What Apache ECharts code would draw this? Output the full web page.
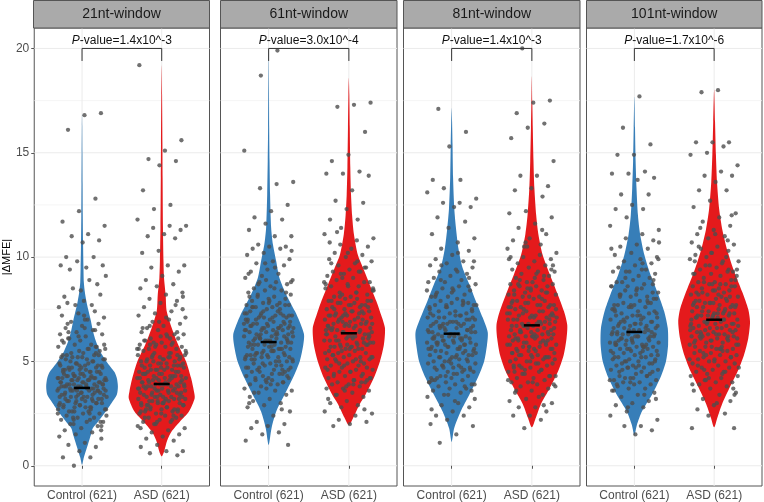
<!DOCTYPE html>
<html><head><meta charset="utf-8">
<script src="https://cdn.jsdelivr.net/npm/echarts@6/dist/echarts.min.js"></script>
<style>html,body{margin:0;padding:0;background:#fff}#c{width:764px;height:502px}</style>
</head><body><div id="c"></div>
<script>
// ---------------- data ----------------
const panels = ['21nt-window','61nt-window','81nt-window','101nt-window'];
const groups = ['Control (621)','ASD (621)'];
const pValues = ['1.4x10^-3','3.0x10^-4','1.4x10^-3','1.7x10^-6'];
const yTicks = [0,5,10,15,20];
const yMinorTicks = [2.5,7.5,12.5,17.5];
const medianControl = [3.73,5.93,6.33,6.41];
const medianASD = [3.92,6.35,6.73,7.0];
const bracketTop = 20.0, bracketLeg = 19.4, labelY = 20.38;

// violin outlines: [value, relative density]
const violinControl21 = [[0.05,0],[0.4,0.05],[1.0,0.16],[1.5,0.25],[1.8,0.30],[2.1,0.44],[2.5,0.62],[3.0,0.82],[3.4,0.97],[3.8,1.0],[4.2,0.97],[4.5,0.9],[5.0,0.68],[5.5,0.5],[6.0,0.38],[6.5,0.3],[7.0,0.24],[7.5,0.17],[7.9,0.12],[8.3,0.08],[8.8,0.05],[9.5,0.04],[10.5,0.03],[12,0.02],[13.5,0.015],[15,0.01],[16.3,0.005],[16.9,0]];
const violinASD21 = [[0.45,0],[0.7,0.07],[1.2,0.15],[1.65,0.28],[2.1,0.5],[2.6,0.76],[3.24,0.92],[3.56,0.9],[4.2,0.82],[5.0,0.68],[5.8,0.46],[6.6,0.28],[7.4,0.14],[8.2,0.11],[9.0,0.065],[9.8,0.05],[11.4,0.035],[13.8,0.025],[15.4,0.02],[17.8,0.01],[19.2,0]];
const violinControl61 = [[1.0,0],[1.8,0.08],[2.6,0.21],[3.4,0.44],[4.2,0.67],[5.0,0.86],[5.8,0.96],[6.3,0.98],[6.9,0.86],[7.4,0.73],[8.2,0.49],[9.0,0.3],[9.8,0.21],[10.6,0.12],[11.4,0.07],[13.0,0.04],[14.6,0.025],[16.2,0.015],[17.8,0.01],[19.9,0]];
const violinASD61 = [[1.94,0],[2.3,0.12],[2.95,0.3],[3.4,0.46],[4.2,0.69],[5.0,0.86],[5.8,0.97],[6.6,1.0],[7.25,0.89],[7.9,0.76],[8.5,0.62],[9.5,0.39],[10.1,0.25],[11.1,0.14],[12.0,0.09],[13.0,0.06],[14.3,0.04],[16.2,0.025],[17.8,0.012],[18.6,0]];
const violinControl81 = [[1.14,0],[1.8,0.07],[2.6,0.25],[3.4,0.49],[4.2,0.72],[5.0,0.9],[5.8,0.98],[6.4,1.0],[7.1,0.86],[7.9,0.67],[8.7,0.49],[9.5,0.3],[10.4,0.19],[11.4,0.12],[12.3,0.074],[13.8,0.04],[15.4,0.025],[16.5,0.012],[17.16,0]];
const violinASD81 = [[1.84,0],[2.3,0.11],[2.95,0.25],[3.7,0.49],[4.5,0.72],[5.3,0.88],[6.1,0.96],[6.75,0.98],[7.4,0.89],[8.2,0.72],[9.2,0.49],[10.1,0.3],[11.1,0.18],[12.0,0.12],[13.3,0.07],[14.6,0.045],[16.2,0.025],[17.5,0.012],[18.67,0]];
const violinControl101 = [[1.46,0],[1.95,0.07],[2.6,0.21],[3.4,0.49],[4.2,0.72],[5.0,0.88],[5.8,0.94],[6.6,0.93],[7.4,0.83],[8.2,0.67],[9.2,0.44],[10.1,0.28],[11.1,0.16],[12.0,0.1],[13.3,0.06],[14.6,0.035],[16.2,0.018],[17.7,0]];
const violinASD101 = [[1.84,0],[2.3,0.09],[2.95,0.22],[3.7,0.42],[4.5,0.65],[5.3,0.83],[6.1,0.95],[6.9,1.0],[7.5,0.95],[8.3,0.79],[9.3,0.56],[10.3,0.37],[11.3,0.23],[12.3,0.14],[13.6,0.08],[14.9,0.05],[16.5,0.025],[18.03,0]];

// individual |dMFE| values
const pointsControl21 = [0.0,0.4,0.4,0.7,0.9,1.0,1.1,1.3,1.4,1.5,1.6,1.7,1.8,1.9,2.0,2.1,2.1,2.2,2.3,2.3,2.4,2.5,2.5,2.6,2.6,2.7,2.7,2.8,2.8,2.9,2.9,3.0,2.6,2.8,3.0,3.0,3.1,3.1,3.2,3.2,3.2,3.3,3.3,3.4,3.4,3.4,3.5,3.1,3.3,3.5,3.6,3.6,3.6,3.7,3.7,3.7,3.8,3.8,3.8,3.9,3.9,3.9,4.0,3.6,3.7,3.8,4.0,4.0,4.1,4.1,4.1,4.2,4.2,4.2,4.3,4.3,4.4,4.4,4.5,4.1,4.2,4.3,4.5,4.6,4.6,4.7,4.7,4.8,4.8,4.9,4.9,5.0,4.6,4.7,4.8,5.0,5.1,5.1,5.2,5.2,5.3,5.3,5.4,5.5,5.2,5.6,5.6,5.7,5.8,5.8,5.9,6.0,5.7,6.1,6.2,6.3,6.3,6.4,6.5,6.6,6.7,6.8,6.9,7.0,7.1,7.2,7.3,7.4,7.8,7.9,8.2,8.5,8.9,9.1,7.6,7.7,7.7,8.1,8.4,8.7,9.4,9.5,9.6,9.6,9.8,10.0,10.0,10.7,10.8,11.0,11.1,11.5,11.7,12.2,12.8,16.1,16.8,16.9,
  2.0,2.2,2.4,2.5,2.6,2.7,2.8,2.9,3.0,3.1,3.1,3.2,3.3,3.3,3.4,3.5,3.5,3.6,3.6,3.7,3.7,3.8,3.8,3.9,3.9,4.0,4.0,4.1,4.1,4.2,4.2,4.3,4.3,4.4,4.4,4.5,4.6,4.6,4.7,4.8,4.9,5.0,5.1,5.2,5.3,5.4,5.6,5.8,6.0,6.2,6.5,6.8,7.2,2.1,2.3,2.5,2.7,2.9,3.0,3.2,3.4,3.5,3.6,3.7,3.8,3.9,4.0,4.1,4.2,4.3,4.4,4.5,4.7,4.9,5.1,5.3,5.5,5.7,6.1,6.6,1.7,2.2,2.8,3.3,3.6,3.9,4.2,4.5,4.8,5.4,6.4,7.0,1.9];
const pointsASD21 = [0.5,0.6,0.7,0.7,0.9,1.0,1.2,1.3,1.4,1.5,1.6,1.7,1.8,1.9,2.0,2.1,2.1,2.2,2.3,2.3,2.4,2.4,2.5,2.5,2.6,2.6,2.7,2.7,2.8,2.8,2.9,2.9,3.0,2.7,2.9,3.0,3.0,3.1,3.1,3.2,3.2,3.3,3.3,3.4,3.4,3.5,3.1,3.2,3.3,3.5,3.6,3.6,3.7,3.7,3.8,3.8,3.9,3.9,4.0,3.6,3.7,3.8,3.9,4.0,4.1,4.1,4.2,4.2,4.3,4.3,4.4,4.4,4.5,4.1,4.2,4.3,4.5,4.6,4.6,4.7,4.7,4.8,4.8,4.9,4.9,5.0,4.6,4.8,5.0,5.1,5.1,5.2,5.2,5.3,5.3,5.4,5.4,5.5,5.2,5.6,5.6,5.7,5.7,5.8,5.8,5.9,6.0,5.9,6.1,6.1,6.2,6.3,6.4,6.5,6.3,6.6,6.7,6.8,6.9,7.0,7.1,7.2,7.3,7.4,7.6,7.8,7.9,8.0,8.2,8.3,8.5,8.6,8.7,8.9,9.1,9.3,9.5,9.6,9.6,10.2,10.3,10.9,11.0,11.1,11.3,11.4,11.5,11.5,11.8,12.3,12.5,13.2,14.4,14.6,14.7,15.1,15.6,19.2,
  2.0,2.2,2.3,2.5,2.6,2.7,2.8,2.9,3.0,3.1,3.2,3.3,3.3,3.4,3.5,3.5,3.6,3.7,3.7,3.8,3.8,3.9,3.9,4.0,4.0,4.1,4.2,4.2,4.3,4.4,4.4,4.5,4.6,4.7,4.7,4.8,4.9,5.0,5.1,5.1,5.2,5.3,5.4,5.5,5.6,5.7,5.8,6.0,6.2,6.4,6.7,7.1,7.5,1.8,2.1,2.4,2.7,3.0,3.2,3.4,3.6,3.8,4.0,4.1,4.3,4.5,4.6,4.8,5.0,5.2,5.4,5.6,5.9,6.1,6.6,6.9,7.7,2.9,3.1,3.5,3.7,3.9,4.2,4.4,4.9,5.3,5.8,6.3,8.1,2.6,3.3];
const pointsControl61 = [1.0,1.2,1.5,1.6,1.8,1.9,2.0,2.1,2.4,2.6,2.8,2.9,3.0,3.1,3.2,3.4,3.5,3.6,3.6,3.7,3.8,3.9,3.9,4.0,4.0,4.1,4.1,4.2,4.3,4.3,4.4,4.5,4.2,4.5,4.6,4.6,4.7,4.7,4.8,4.8,4.9,4.9,5.0,4.7,5.0,5.1,5.1,5.2,5.2,5.3,5.3,5.4,5.4,5.5,5.2,5.3,5.5,5.6,5.6,5.7,5.7,5.8,5.8,5.9,5.9,6.0,5.6,5.8,5.9,6.0,6.1,6.1,6.2,6.2,6.3,6.3,6.4,6.4,6.5,6.1,6.2,6.3,6.5,6.6,6.6,6.7,6.7,6.8,6.8,6.9,6.9,7.0,6.6,6.7,6.8,7.0,7.1,7.1,7.2,7.2,7.3,7.3,7.4,7.4,7.5,7.2,7.6,7.6,7.7,7.7,7.8,7.8,7.9,8.0,7.7,8.1,8.1,8.2,8.3,8.4,8.4,8.5,8.6,8.7,8.8,8.8,8.9,9.0,9.1,9.2,9.3,9.4,9.6,9.7,9.8,9.9,10.1,10.2,10.4,10.4,10.5,10.5,10.6,11.0,11.0,11.3,11.6,11.8,11.9,12.2,12.5,13.3,13.5,13.6,15.1,18.7,19.9,
  3.3,3.7,4.0,4.2,4.4,4.6,4.7,4.9,5.0,5.1,5.2,5.3,5.4,5.5,5.6,5.7,5.8,5.9,6.0,6.0,6.1,6.2,6.3,6.4,6.5,6.5,6.6,6.7,6.8,6.9,7.0,7.1,7.2,7.3,7.4,7.5,7.6,7.8,8.0,8.2,8.5,8.8,9.2,9.7,2.7,3.5,3.9,4.3,4.5,4.8,5.0,5.2,5.4,5.6,5.8,6.0,6.2,6.3,6.5,6.7,6.9,7.1,7.3,7.6,7.9,8.3,8.7,9.5,10.3,3.0,4.1,4.6,5.1,5.5,5.9,6.1,6.4,6.6,6.8,7.2,7.7,8.1,8.9,4.4,5.3,5.7,6.6,7.0];
const pointsASD61 = [1.9,2.0,2.1,2.2,2.4,2.5,2.6,2.8,2.9,3.0,3.1,3.3,3.4,3.5,3.6,3.7,3.7,3.8,3.9,3.9,4.0,4.0,4.1,4.2,4.2,4.3,4.3,4.4,4.5,4.1,4.5,4.6,4.6,4.7,4.7,4.8,4.8,4.9,4.9,5.0,5.0,5.1,5.1,5.2,5.2,5.3,5.3,5.4,5.4,5.5,5.2,5.5,5.6,5.6,5.7,5.7,5.8,5.8,5.9,5.9,6.0,5.7,5.8,6.0,6.1,6.1,6.2,6.2,6.3,6.3,6.4,6.4,6.5,6.2,6.3,6.5,6.6,6.6,6.7,6.7,6.8,6.8,6.9,6.9,7.0,6.7,6.8,7.0,7.1,7.1,7.2,7.2,7.3,7.3,7.4,7.4,7.5,7.2,7.6,7.6,7.7,7.7,7.8,7.8,7.9,7.9,8.0,7.7,8.1,8.1,8.2,8.3,8.3,8.4,8.5,8.2,8.6,8.6,8.7,8.8,8.9,9.0,8.8,9.1,9.2,9.3,9.3,9.4,9.5,9.6,9.7,9.8,9.9,10.0,10.1,10.2,10.4,10.5,10.6,10.8,10.9,11.1,11.4,11.8,11.8,12.3,12.6,12.7,13.2,13.9,14.0,14.0,14.1,14.6,14.9,16.0,17.2,17.3,17.4,
  3.2,3.6,4.0,4.3,4.5,4.7,4.9,5.1,5.2,5.4,5.5,5.6,5.7,5.8,5.9,6.0,6.1,6.2,6.3,6.4,6.5,6.6,6.7,6.8,6.9,7.0,7.1,7.2,7.3,7.4,7.5,7.7,7.9,8.1,8.3,8.5,8.7,9.0,9.3,9.7,10.2,2.7,3.4,3.9,4.2,4.6,4.8,5.0,5.3,5.6,5.8,6.0,6.2,6.4,6.6,6.8,7.0,7.2,7.4,7.6,7.8,8.0,8.4,8.8,9.2,9.8,10.7,3.8,4.4,5.1,5.7,6.1,6.5,6.9,7.3,7.9,8.6,9.5,11.2,4.1,5.9,6.7,7.5];
const pointsControl81 = [1.1,1.5,1.9,2.0,2.2,2.4,2.4,2.6,2.8,2.9,3.0,3.2,3.3,3.4,3.5,3.6,3.7,3.7,3.8,3.9,3.9,4.0,4.0,4.1,4.1,4.2,4.3,4.3,4.4,4.5,4.2,4.5,4.6,4.6,4.7,4.7,4.8,4.8,4.9,4.9,5.0,4.7,5.0,5.1,5.1,5.2,5.2,5.3,5.3,5.4,5.4,5.5,5.2,5.3,5.5,5.6,5.6,5.7,5.7,5.8,5.8,5.9,5.9,6.0,5.6,5.8,5.9,6.0,6.1,6.1,6.2,6.2,6.3,6.3,6.4,6.4,6.5,6.1,6.2,6.3,6.5,6.6,6.6,6.7,6.7,6.8,6.8,6.9,6.9,7.0,6.7,6.8,7.0,7.1,7.1,7.2,7.2,7.3,7.3,7.4,7.4,7.5,7.6,7.6,7.7,7.7,7.8,7.8,7.9,8.0,7.7,8.1,8.1,8.2,8.3,8.4,8.4,8.5,8.6,8.7,8.8,8.8,8.9,9.0,9.1,9.2,9.3,9.4,9.5,9.6,9.7,9.8,9.9,10.1,10.3,10.4,10.7,10.9,11.1,11.4,11.7,11.9,12.4,12.4,12.6,12.6,12.8,13.1,13.3,13.7,13.7,15.3,16.0,17.1,
  3.1,3.6,4.0,4.3,4.5,4.7,4.9,5.0,5.2,5.3,5.5,5.6,5.7,5.8,5.9,6.0,6.1,6.2,6.3,6.4,6.5,6.6,6.7,6.8,6.9,7.0,7.1,7.2,7.4,7.5,7.7,7.9,8.1,8.3,8.6,8.9,9.3,9.8,2.7,3.4,3.8,4.2,4.4,4.6,4.8,5.1,5.4,5.6,5.8,6.0,6.1,6.3,6.5,6.7,6.9,7.1,7.3,7.6,7.8,8.2,8.5,9.0,9.6,10.2,3.9,4.1,5.0,5.5,5.9,6.2,6.6,6.8,7.2,7.7,8.4,4.7,5.7,6.4];
const pointsASD81 = [1.8,2.2,2.4,2.4,2.6,2.8,2.8,3.0,3.1,3.2,3.4,3.5,3.6,3.7,3.8,3.9,3.9,4.0,4.0,4.1,4.2,4.2,4.3,4.4,4.5,4.3,4.5,4.6,4.6,4.7,4.7,4.8,4.8,4.9,4.9,5.0,5.0,5.1,5.1,5.2,5.2,5.3,5.3,5.4,5.4,5.5,5.2,5.5,5.6,5.6,5.7,5.7,5.8,5.8,5.9,5.9,6.0,5.7,5.8,6.0,6.1,6.1,6.2,6.2,6.3,6.3,6.4,6.4,6.5,6.2,6.3,6.5,6.6,6.6,6.7,6.7,6.8,6.8,6.9,6.9,7.0,6.7,6.8,7.0,7.1,7.1,7.2,7.2,7.3,7.3,7.4,7.4,7.5,7.2,7.6,7.6,7.7,7.7,7.8,7.8,7.9,7.9,8.0,7.7,8.1,8.1,8.2,8.2,8.3,8.4,8.4,8.5,8.3,8.6,8.6,8.7,8.7,8.8,8.9,9.0,8.8,9.1,9.2,9.3,9.3,9.4,9.5,9.6,9.7,9.8,9.9,10.0,10.1,10.2,10.4,10.5,10.6,10.8,10.9,11.1,11.4,11.6,11.9,12.1,12.2,12.9,13.2,13.3,13.4,13.9,13.9,14.6,15.7,16.2,16.4,16.9,17.4,17.5,20.0,
  3.3,3.8,4.1,4.4,4.6,4.8,5.0,5.2,5.3,5.5,5.6,5.8,5.9,6.0,6.1,6.2,6.3,6.4,6.5,6.6,6.7,6.8,6.9,7.0,7.1,7.2,7.3,7.4,7.5,7.6,7.8,8.0,8.2,8.4,8.6,8.9,9.2,9.6,10.0,10.5,2.9,3.6,4.0,4.3,4.7,4.9,5.1,5.4,5.7,5.9,6.1,6.3,6.5,6.7,6.9,7.1,7.3,7.5,7.7,7.9,8.1,8.3,8.7,9.0,9.4,9.9,10.7,11.3,4.5,5.3,6.0,6.4,6.8,7.2,7.6,8.5,9.1,5.6,6.2,7.0];
const pointsControl101 = [1.5,1.7,1.9,1.9,2.2,2.4,2.6,2.8,2.9,3.0,3.1,3.3,3.4,3.5,3.6,3.7,3.7,3.8,3.9,3.9,4.0,4.0,4.1,4.1,4.2,4.3,4.3,4.4,4.5,4.2,4.5,4.6,4.6,4.7,4.7,4.8,4.8,4.9,4.9,5.0,5.0,5.1,5.1,5.2,5.2,5.3,5.3,5.4,5.4,5.5,5.2,5.5,5.6,5.6,5.7,5.7,5.8,5.8,5.9,5.9,6.0,5.7,5.8,6.0,6.1,6.1,6.2,6.2,6.3,6.3,6.4,6.4,6.5,6.2,6.3,6.5,6.6,6.6,6.7,6.7,6.8,6.8,6.9,6.9,7.0,6.7,7.0,7.1,7.1,7.2,7.2,7.3,7.3,7.4,7.4,7.5,7.6,7.6,7.7,7.7,7.8,7.8,7.9,8.0,7.7,8.1,8.1,8.2,8.2,8.3,8.4,8.5,8.3,8.6,8.6,8.7,8.8,8.9,9.0,8.8,9.1,9.2,9.3,9.3,9.4,9.5,9.6,9.7,9.8,9.9,10.0,10.1,10.2,10.4,10.5,10.6,10.8,10.9,11.1,11.3,11.5,11.9,12.3,12.3,12.5,13.0,13.0,13.7,13.8,14.0,14.0,14.1,14.9,14.9,15.4,16.2,17.7,
  3.2,3.6,4.0,4.3,4.5,4.7,4.9,5.0,5.2,5.3,5.5,5.6,5.7,5.8,5.9,6.0,6.1,6.2,6.3,6.4,6.5,6.6,6.7,6.8,6.9,7.0,7.2,7.3,7.5,7.7,7.9,8.1,8.4,8.7,9.0,9.4,9.9,10.4,2.8,3.4,3.9,4.2,4.4,4.6,4.8,5.1,5.4,5.6,5.8,6.0,6.2,6.4,6.6,6.8,7.1,7.4,7.6,7.8,8.2,8.5,8.9,9.3,9.7,10.7,4.1,5.0,5.5,5.9,6.1,6.5,6.9,7.2,8.0,8.6,4.7,5.7,6.3];
const pointsASD101 = [1.8,1.8,2.4,2.5,2.7,2.9,3.1,3.2,3.4,3.5,3.6,3.7,3.8,3.9,4.0,4.0,4.1,4.2,4.3,4.3,4.4,4.5,4.5,4.6,4.7,4.7,4.8,4.9,4.9,5.0,5.0,5.1,5.1,5.2,5.2,5.3,5.3,5.4,5.4,5.5,5.5,5.6,5.6,5.7,5.7,5.8,5.8,5.9,5.9,6.0,5.7,6.0,6.1,6.1,6.2,6.2,6.3,6.3,6.4,6.4,6.5,6.2,6.3,6.5,6.6,6.6,6.7,6.7,6.8,6.8,6.9,6.9,7.0,6.7,6.8,7.0,7.1,7.1,7.2,7.2,7.3,7.3,7.4,7.4,7.5,7.2,7.3,7.6,7.6,7.7,7.7,7.8,7.8,7.9,7.9,8.0,7.7,7.8,8.1,8.1,8.2,8.2,8.3,8.3,8.4,8.4,8.5,8.2,8.6,8.6,8.7,8.7,8.8,8.8,8.9,9.0,8.7,9.1,9.2,9.2,9.3,9.4,9.5,9.3,9.6,9.7,9.8,9.9,10.0,9.8,10.1,10.2,10.3,10.4,10.5,10.6,10.7,10.9,11.0,11.1,11.3,11.5,11.7,11.9,12.1,12.4,12.7,13.2,13.2,13.6,13.9,13.9,14.1,14.4,14.9,15.0,15.3,15.5,15.5,15.5,17.9,18.0,
  3.4,3.9,4.2,4.5,4.8,5.0,5.2,5.4,5.6,5.8,5.9,6.0,6.1,6.2,6.3,6.4,6.5,6.6,6.7,6.8,6.9,7.0,7.1,7.2,7.3,7.4,7.5,7.6,7.7,7.8,8.0,8.2,8.4,8.6,8.8,9.1,9.4,9.8,10.2,10.8,11.4,3.0,3.7,4.1,4.4,4.7,5.1,5.3,5.5,5.7,6.0,6.2,6.4,6.6,6.8,7.0,7.2,7.4,7.6,7.8,8.1,8.3,8.5,8.9,9.2,9.6,10.0,10.5,11.1,12.0,4.6,5.6,6.1,6.5,6.9,7.3,7.9,8.7,9.4,6.3,7.1];

const violinSets = [[violinControl21,violinASD21],[violinControl61,violinASD61],[violinControl81,violinASD81],[violinControl101,violinASD101]];
const pointSets = [[pointsControl21,pointsASD21],[pointsControl61,pointsASD61],[pointsControl81,pointsASD81],[pointsControl101,pointsASD101]];
const medianSets = [medianControl, medianASD];

// ---------------- layout / style ----------------
const PANEL_LEFT = [33.5,220.5,403.5,586.5];
const PANEL_W = [176,176.5,176.5,175.5];
const TOP = 28, H = 458;
const Y_MIN = -0.97, Y_MAX = 20.98;
const COLORS = ['#377EB8','#E41A1C'];
const HALF = 0.45, JIT = 0.31;
const FONT = 'Liberation Sans, Arial, Helvetica, sans-serif';

// deterministic, evenly spread horizontal jitter (radical inverse, base 3)
function spread(i) { let f = 1/3, r = 0, n = i; while (n > 0) { r += f * (n % 3); n = Math.floor(n / 3); f /= 3; } return r; }

const chart = echarts.init(document.getElementById('c'), null, {renderer:'canvas'});
const grid=[], xAxis=[], yAxis=[], series=[], graphic=[];

for (let p = 0; p < 4; p++) {
  grid.push({left:PANEL_LEFT[p], top:TOP, width:PANEL_W[p], height:H, show:true,
    borderColor:'#555', borderWidth:1, backgroundColor:'#fff', containLabel:false});
  xAxis.push({gridIndex:p, type:'value', min:0.4, max:2.6,
    splitLine:{show:false}, axisLine:{show:false},
    axisTick:{show:true, customValues:[1,2], length:3, lineStyle:{color:'#555'}},
    axisLabel:{customValues:[1,2], formatter:v=>groups[Math.round(v)-1], color:'#4d4d4d', fontSize:12, margin:4, fontFamily:FONT}});
  yAxis.push({gridIndex:p, type:'value', min:Y_MIN, max:Y_MAX,
    splitLine:{show:false}, axisLine:{show:false},
    axisTick:{show:p===0, customValues:yTicks, length:3, lineStyle:{color:'#555'}},
    axisLabel:{show:p===0, customValues:yTicks, color:'#4d4d4d', fontSize:12, margin:5, fontFamily:FONT},
    name: p===0 ? '|ΔMFE|' : '', nameLocation:'middle', nameGap:22,
    nameTextStyle:{fontSize:11, color:'#000', fontFamily:FONT}});

  // panel grid lines
  series.push({type:'custom', xAxisIndex:p, yAxisIndex:p, silent:true, z:0, data:[[1,0]],
    renderItem:(params, api) => {
      const cs = params.coordSys, ch = [];
      yMinorTicks.forEach(v => { const y = api.coord([1,v])[1];
        ch.push({type:'line', shape:{x1:cs.x, y1:y, x2:cs.x+cs.width, y2:y}, style:{stroke:'#f0f0f0', lineWidth:0.7}}); });
      yTicks.forEach(v => { const y = api.coord([1,v])[1];
        ch.push({type:'line', shape:{x1:cs.x, y1:y, x2:cs.x+cs.width, y2:y}, style:{stroke:'#ebebeb', lineWidth:1}}); });
      [1,2].forEach(v => { const x = api.coord([v,0])[0];
        ch.push({type:'line', shape:{x1:x, y1:cs.y, x2:x, y2:cs.y+cs.height}, style:{stroke:'#ebebeb', lineWidth:1}}); });
      return {type:'group', children:ch};
    }});

  // violins
  series.push({type:'custom', xAxisIndex:p, yAxisIndex:p, silent:true, z:1, data:[[1,0],[2,1]],
    renderItem:(params, api) => {
      const cx = api.value(0), g = api.value(1);
      const prof = violinSets[p][g];
      const right = prof.map(d => api.coord([cx + d[1]*HALF, d[0]]));
      const left = prof.slice(1, -1).reverse().map(d => api.coord([cx - d[1]*HALF, d[0]]));
      return {type:'polygon', shape:{points:right.concat(left), smooth:0.25}, style:{fill:COLORS[g]}};
    }});

  // jittered points
  [0,1].forEach(g => {
    series.push({type:'scatter', xAxisIndex:p, yAxisIndex:p, silent:true, z:2, symbolSize:4.3,
      itemStyle:{color:'#4d4d4d'},
      data: pointSets[p][g].map((v,i) => [g + 1 + ((spread(i + 1 + 7*p + 13*g) + 0.5/243) - 0.5) * 2 * JIT, v])});
  });

  // medians
  series.push({type:'custom', xAxisIndex:p, yAxisIndex:p, silent:true, z:3,
    data:[[1, medianSets[0][p]],[2, medianSets[1][p]]],
    renderItem:(params, api) => {
      const a = api.coord([api.value(0)-0.1, api.value(1)]);
      const b = api.coord([api.value(0)+0.1, api.value(1)]);
      return {type:'line', shape:{x1:a[0], y1:a[1], x2:b[0], y2:b[1]}, style:{stroke:'#000', lineWidth:2.5}};
    }});

  // significance bracket + p-value
  series.push({type:'custom', xAxisIndex:p, yAxisIndex:p, silent:true, z:4, data:[[1.5, bracketTop]],
    renderItem:(params, api) => {
      const pts = [api.coord([1,bracketLeg]), api.coord([1,bracketTop]), api.coord([2,bracketTop]), api.coord([2,bracketLeg])];
      const t = api.coord([1.5, labelY]);
      return {type:'group', children:[
        {type:'polyline', shape:{points:pts}, style:{stroke:'#333', lineWidth:1, fill:null}},
        {type:'text', x:t[0], y:t[1], style:{text:'{i|P}-value=' + pValues[p], fill:'#111',
          font:'12px ' + FONT, align:'center', verticalAlign:'middle',
          rich:{i:{fontStyle:'italic', fontSize:12, fontFamily:FONT, fill:'#111'}}}}
      ]};
    }});

  // facet strip
  graphic.push({type:'rect', shape:{x:PANEL_LEFT[p], y:0.5, width:PANEL_W[p], height:27.5},
    style:{fill:'#aaaaaa', stroke:'#555', lineWidth:1}, z:10});
  graphic.push({type:'text', x:PANEL_LEFT[p] + PANEL_W[p]/2, y:14.5, z:11,
    style:{text:panels[p], font:'14px ' + FONT, fill:'#1a1a1a', align:'center', verticalAlign:'middle',
      textAlign:'center', textVerticalAlign:'middle'}});
}

chart.setOption({animation:false, backgroundColor:'#fff', grid, xAxis, yAxis, series, graphic});
</script>
</body></html>
